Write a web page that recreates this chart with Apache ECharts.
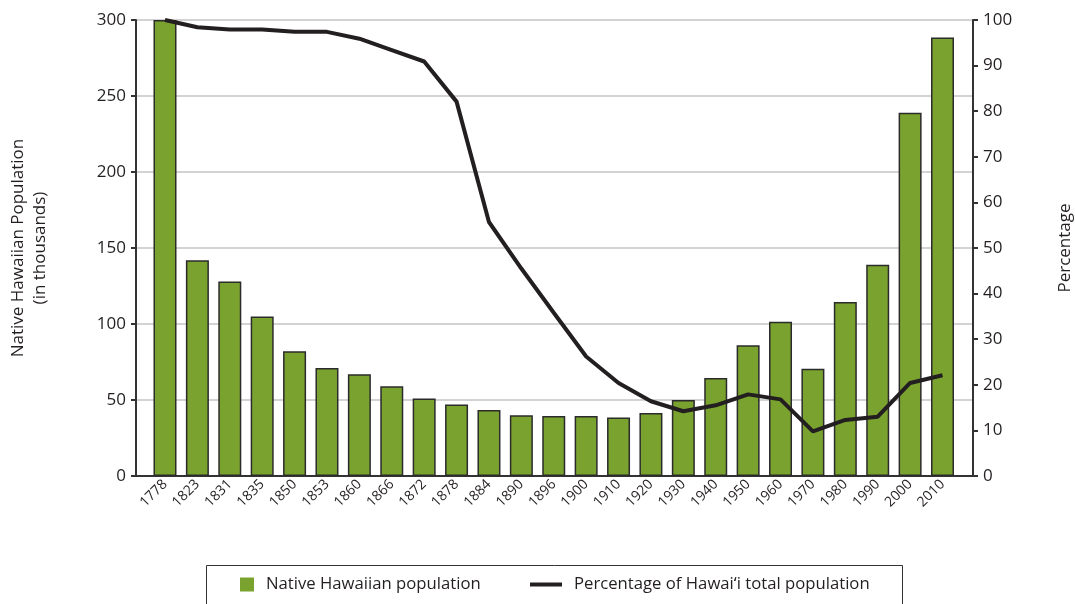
<!DOCTYPE html>
<html>
<head>
<meta charset="utf-8">
<script src="https://cdn.jsdelivr.net/npm/echarts@6/dist/echarts.min.js"></script>
<style>
  html, body { margin: 0; padding: 0; background: #fff; }
  #chart { width: 1075px; height: 604px; }
</style>
</head>
<body>
<div id="chart"></div>
<script>
const years = ["1778", "1823", "1831", "1835", "1850", "1853", "1860", "1866", "1872", "1878",
  "1884", "1890", "1896", "1900", "1910", "1920", "1930", "1940", "1950", "1960",
  "1970", "1980", "1990", "2000", "2010"];
// native hawaiian population, thousands
const population = [300, 142, 128, 105, 82, 71, 67, 59, 51, 47,
  43.5, 40, 39.5, 39.5, 38.5, 41.5, 50, 64.5, 86, 101.5,
  70.5, 114.5, 139, 239, 288.5];
// percentage of total population
const percent = [100, 98.4, 97.9, 97.9, 97.4, 97.4, 95.9, 93.4, 90.9, 82.1,
  55.7, 45.5, 35.8, 26.2, 20.4, 16.4, 14.2, 15.5, 17.9, 16.8,
  9.8, 12.3, 13.0, 20.4, 22.1];
const leftTicks = [0, 300, 50];
const rightTicks = [0, 100, 10];

const font = "'Open Sans', 'Noto Sans', sans-serif";
const ink = "#231f20";
const popName = "Native Hawaiian population";
const pctName = "Percentage of Hawai\u02BBi total population";

const myChart = echarts.init(document.getElementById("chart"));

const option = {
  animation: false,
  textStyle: { fontFamily: font, color: ink },
  grid: [
    // frame: axes + gridlines
    { left: 136, right: 102, top: 20, bottom: 128, outerBoundsMode: "none" },
    // data area, a bit inset like the original
    { left: 148.8, right: 116.3, top: 20, bottom: 128, outerBoundsMode: "none" }
  ],
  graphic: [
    {
      type: "rect",
      shape: { x: 206.5, y: 565.5, width: 696, height: 60 },
      style: { fill: "none", stroke: "#333", lineWidth: 1 }
    }
  ],
  legend: [
    {
      left: 240,
      top: 576,
      padding: 0,
      itemWidth: 14,
      itemHeight: 14,
      textStyle: { fontFamily: font, fontSize: 16.7, color: ink, padding: [0, 0, 0, 7] },
      data: [{ name: popName, icon: "rect", itemStyle: { color: "#7aa22f", borderWidth: 0 } }]
    },
    {
      left: 530,
      top: 576,
      padding: 0,
      itemWidth: 32,
      itemHeight: 4,
      textStyle: { fontFamily: font, fontSize: 16.7, color: ink, padding: [0, 0, 0, 7] },
      data: [{ name: pctName, icon: "rect", itemStyle: { color: ink } }]
    }
  ],
  xAxis: [
    {
      type: "category",
      gridIndex: 0,
      data: years,
      axisLine: { lineStyle: { color: "#333", width: 2 } },
      axisTick: { show: false },
      axisLabel: { show: false }
    },
    {
      type: "category",
      gridIndex: 1,
      data: years,
      axisLine: { show: false },
      axisTick: { show: false },
      axisLabel: {
        rotate: 45,
        fontSize: 14,
        color: ink,
        margin: 6,
        interval: 0,
        fontFamily: font
      }
    }
  ],
  yAxis: [
    {
      type: "value",
      gridIndex: 0,
      min: leftTicks[0],
      max: leftTicks[1],
      interval: leftTicks[2],
      name: "Native Hawaiian Population\n(in thousands)",
      nameLocation: "middle",
      nameGap: 85,
      nameTextStyle: { fontSize: 17, color: ink, fontFamily: font, lineHeight: 22 },
      axisLine: { show: true, lineStyle: { color: "#333", width: 2 } },
      axisTick: { show: true, length: 5, lineStyle: { color: "#333", width: 2 } },
      axisLabel: { fontSize: 17, color: ink, margin: 10, fontFamily: font },
      splitLine: { lineStyle: { color: "#c4c4c4", width: 1.5 } }
    },
    {
      type: "value",
      gridIndex: 0,
      position: "right",
      min: rightTicks[0],
      max: rightTicks[1],
      interval: rightTicks[2],
      name: "Percentage",
      nameLocation: "middle",
      nameGap: 84,
      nameRotate: 90,
      nameTextStyle: { fontSize: 17, color: ink, fontFamily: font },
      axisLine: { show: true, lineStyle: { color: "#333", width: 2 } },
      axisTick: { show: true, length: 5, lineStyle: { color: "#333", width: 2 } },
      axisLabel: { fontSize: 17, color: ink, margin: 10, fontFamily: font },
      splitLine: { show: false }
    },
    {
      type: "value",
      gridIndex: 1,
      min: leftTicks[0],
      max: leftTicks[1],
      interval: leftTicks[2],
      show: false
    },
    {
      type: "value",
      gridIndex: 1,
      min: rightTicks[0],
      max: rightTicks[1],
      interval: rightTicks[2],
      show: false
    }
  ],
  series: [
    {
      name: popName,
      type: "bar",
      xAxisIndex: 1,
      yAxisIndex: 2,
      barWidth: 23,
      itemStyle: { color: "#7aa22f", borderColor: "#2b2b2b", borderWidth: 1.5 },
      data: population
    },
    {
      name: pctName,
      type: "line",
      xAxisIndex: 1,
      yAxisIndex: 3,
      showSymbol: false,
      symbol: "none",
      lineStyle: { color: ink, width: 4 },
      itemStyle: { color: ink },
      data: percent
    }
  ]
};

myChart.setOption(option);
</script>
</body>
</html>
